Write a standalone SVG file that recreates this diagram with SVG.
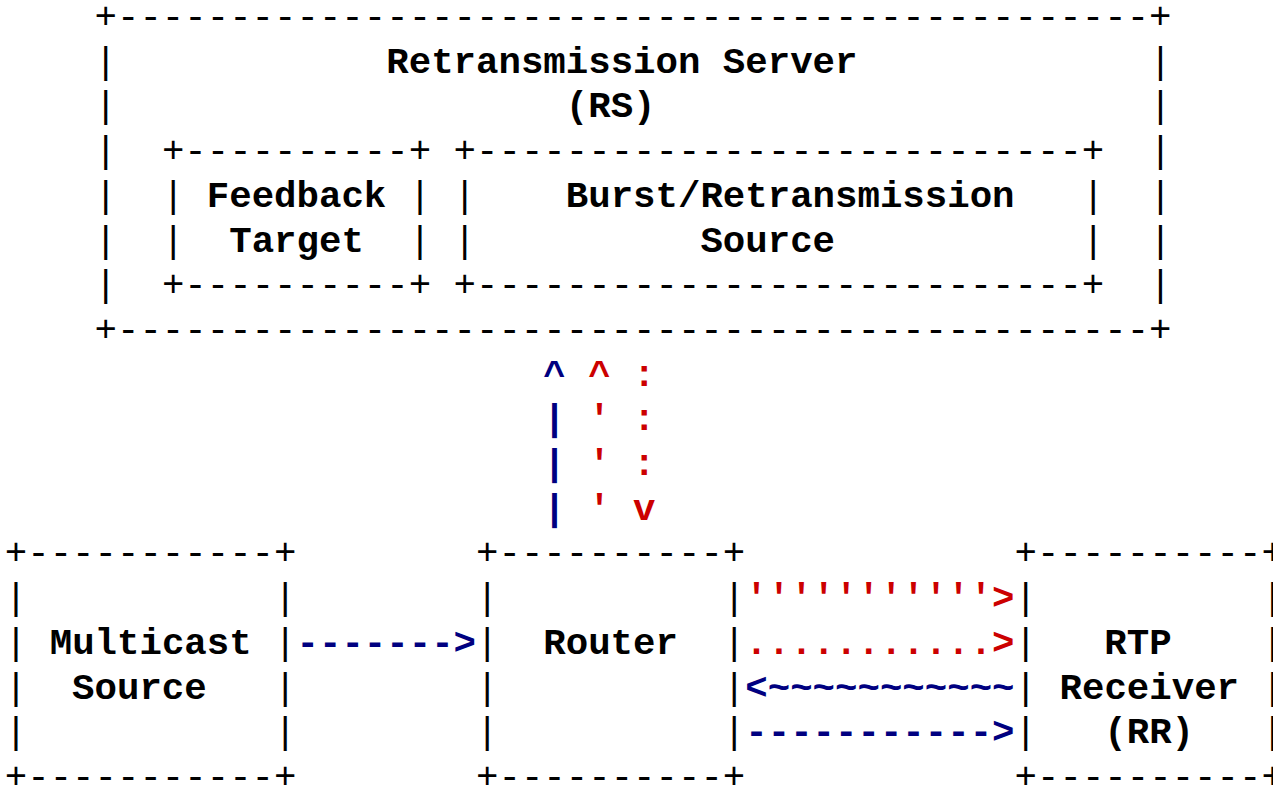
<svg xmlns="http://www.w3.org/2000/svg" width="1273" height="786" viewBox="0 0 1273 786">
<style>
text{font-family:"Liberation Mono","Courier New",monospace;font-size:37.4px;white-space:pre}
.b{fill:#000}
.l{fill:#000;font-weight:bold}
.blue{fill:#000080;font-weight:bold}
.red{fill:#cc0000;font-weight:bold}
</style>
<rect width="1273" height="786" fill="#fff"/>
<g id="rs">
<text class="b" x="94.5" y="28">+----------------------------------------------+</text>
<text class="b" x="94.5 1149.2" y="72.7">||</text>
<text class="b" x="94.5 1149.2" y="117.4">||</text>
<text class="b" x="94.5 1149.2" y="162.1">||</text>
<text class="b" x="94.5 1149.2" y="206.8">||</text>
<text class="b" x="94.5 1149.2" y="251.5">||</text>
<text class="b" x="94.5 1149.2" y="296.2">||</text>
<text class="b" x="94.5" y="340.9">+----------------------------------------------+</text>
<text class="l" x="386.3" y="72.7">Retransmission Server</text>
<text class="l" x="565.8" y="117.4">(RS)</text>
</g>
<g id="feedback-target">
<text class="b" x="161.9" y="162.1">+----------+</text>
<text class="b" x="161.9 408.7" y="206.8">||</text>
<text class="b" x="161.9 408.7" y="251.5">||</text>
<text class="b" x="161.9" y="296.2">+----------+</text>
<text class="l" x="206.8" y="206.8">Feedback</text>
<text class="l" x="229.2" y="251.5">Target</text>
</g>
<g id="burst-source">
<text class="b" x="453.6" y="162.1">+---------------------------+</text>
<text class="b" x="453.6 1081.9" y="206.8">||</text>
<text class="b" x="453.6 1081.9" y="251.5">||</text>
<text class="b" x="453.6" y="296.2">+---------------------------+</text>
<text class="l" x="565.8" y="206.8">Burst/Retransmission</text>
<text class="l" x="700.4" y="251.5">Source</text>
</g>
<g id="multicast-source">
<text class="b" x="4.8" y="564.4">+-----------+</text>
<text class="b" x="4.8 274.1" y="609.1">||</text>
<text class="b" x="4.8 274.1" y="653.8">||</text>
<text class="b" x="4.8 274.1" y="698.5">||</text>
<text class="b" x="4.8 274.1" y="743.2">||</text>
<text class="b" x="4.8" y="787.9">+-----------+</text>
<text class="l" x="49.7" y="653.8">Multicast</text>
<text class="l" x="72.1" y="698.5">Source</text>
</g>
<g id="router">
<text class="b" x="476.0" y="564.4">+----------+</text>
<text class="b" x="476.0 722.9" y="609.1">||</text>
<text class="b" x="476.0 722.9" y="653.8">||</text>
<text class="b" x="476.0 722.9" y="698.5">||</text>
<text class="b" x="476.0 722.9" y="743.2">||</text>
<text class="b" x="476.0" y="787.9">+----------+</text>
<text class="l" x="543.3" y="653.8">Router</text>
</g>
<g id="rtp-receiver">
<text class="b" x="1014.6" y="564.4">+----------+</text>
<text class="b" x="1014.6 1261.4" y="609.1">||</text>
<text class="b" x="1014.6 1261.4" y="653.8">||</text>
<text class="b" x="1014.6 1261.4" y="698.5">||</text>
<text class="b" x="1014.6 1261.4" y="743.2">||</text>
<text class="b" x="1014.6" y="787.9">+----------+</text>
<text class="l" x="1104.3" y="653.8">RTP</text>
<text class="l" x="1059.5" y="698.5">Receiver</text>
<text class="l" x="1104.3" y="743.2">(RR)</text>
</g>
<g id="connectors">
<text class="blue" x="296.5" y="653.8">-------&gt;</text>
<text class="blue" x="543.3" y="385.6">^</text>
<text class="blue" x="543.3" y="430.3">|</text>
<text class="blue" x="543.3" y="475">|</text>
<text class="blue" x="543.3" y="519.7">|</text>
<text class="red" x="588.2" y="385.6">^</text>
<text class="red" x="588.2" y="430.3">'</text>
<text class="red" x="588.2" y="475">'</text>
<text class="red" x="588.2" y="519.7">'</text>
<text class="red" x="633.1" y="385.6">:</text>
<text class="red" x="633.1" y="430.3">:</text>
<text class="red" x="633.1" y="475">:</text>
<text class="red" x="633.1" y="519.7">v</text>
<text class="red" x="745.3" y="609.1">'''''''''''&gt;</text>
<text class="red" x="745.3" y="653.8">...........&gt;</text>
<text class="blue" x="745.3" y="698.5">&lt;~~~~~~~~~~~</text>
<text class="blue" x="745.3" y="743.2">-----------&gt;</text>
</g>
</svg>
